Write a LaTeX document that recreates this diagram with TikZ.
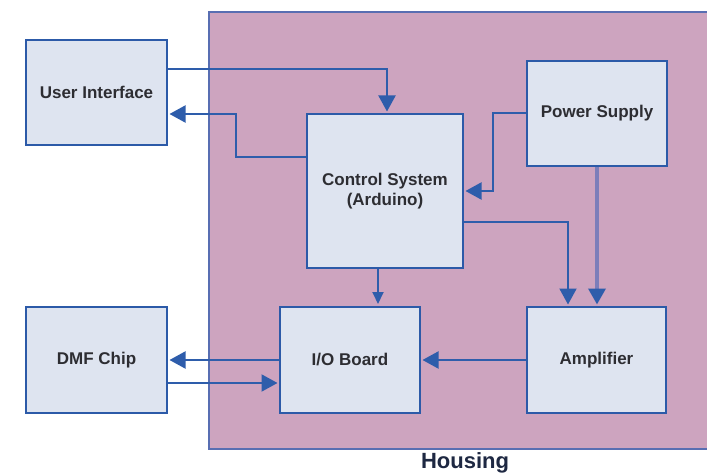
\documentclass[tikz,border=0pt]{standalone}
\usepackage{fontspec}
\setmainfont{Liberation Sans}
\usetikzlibrary{arrows.meta,calc}

\definecolor{boxfill}{RGB}{222,228,240}
\definecolor{boxline}{RGB}{44,90,168}
\definecolor{housefill}{RGB}{205,164,191}
\definecolor{houseline}{RGB}{88,110,178}
\definecolor{wire}{RGB}{46,93,171}
\definecolor{powerwire}{RGB}{124,126,186}
\definecolor{labeltext}{RGB}{45,45,50}
\definecolor{housetext}{RGB}{30,40,66}

\tikzset{
  block/.style={draw=boxline, fill=boxfill, line width=2pt, inner sep=0pt,
    align=center, text=labeltext, font=\bfseries\fontsize{17}{20}\selectfont},
  link/.style={draw=wire, line width=2pt,
    -{Triangle[length=16pt,width=17pt,color=wire]}, shorten >=1.5pt},
  smalllink/.style={draw=wire, line width=2pt,
    -{Triangle[length=12pt,width=11pt,color=wire]}, shorten >=2pt},
  powerlink/.style={draw=powerwire, line width=3.5pt,
    -{Triangle[length=16pt,width=17pt,color=wire,fill=wire]}, shorten >=1.5pt},
}

\begin{document}
\begin{tikzpicture}[x=1pt, y=-1pt]
  \useasboundingbox (0,0) rectangle (707,476);
  \clip (0,0) rectangle (707,476);
  \fill[white] (0,0) rectangle (707,476);

  % housing enclosure (runs off the right edge)
  \draw[houseline, fill=housefill, line width=2pt] (209,12) rectangle (720,449);
  \node[text=housetext, inner sep=0pt, font=\bfseries\fontsize{22}{24}\selectfont] (housing) at (465,463) {Housing};

  % blocks
  \node[block, minimum width=141pt, minimum height=105pt] (ui)  at (96.5,92.5)  {User Interface};
  \node[block, minimum width=156pt, minimum height=154pt] (cs)  at (385,191)    {Control System\\(Arduino)};
  \node[block, minimum width=140pt, minimum height=105pt] (ps)  at (597,113.5)  {Power Supply};
  \node[block, minimum width=141pt, minimum height=106pt] (dmf) at (96.5,360)   {DMF Chip};
  \node[block, minimum width=140pt, minimum height=106pt] (io)  at (350,360)    {I/O Board};
  \node[block, minimum width=139pt, minimum height=106pt] (amp) at (596.5,360)  {Amplifier};

  % user interface <-> control system
  \draw[link] ($(ui.north east)+(0,30)$) -| ([xshift=2pt]cs.north);
  \draw[link] ($(cs.north west)+(0,44)$) -- ++(-70,0) |- ($(ui.north east)+(0,75)$);

  % power supply feeds
  \draw[link] (ps.west) -- ++(-33,0) |- (cs.east);
  \draw[powerlink] (ps.south) -- (ps.south |- amp.north);

  % control system outputs
  \draw[link] ($(cs.north east)+(0,109)$) -| ([xshift=-28.5pt]amp.north);
  \draw[smalllink] ([xshift=-7pt]cs.south) -- ([xshift=-7pt]cs.south |- io.north);

  % I/O board connections
  \draw[link] (io.west) -- (dmf.east);
  \draw[link] ($(dmf.east)+(0,23)$) -- ($(io.west)+(0,23)$);
  \draw[link] (amp.west) -- (io.east);
\end{tikzpicture}
\end{document}
